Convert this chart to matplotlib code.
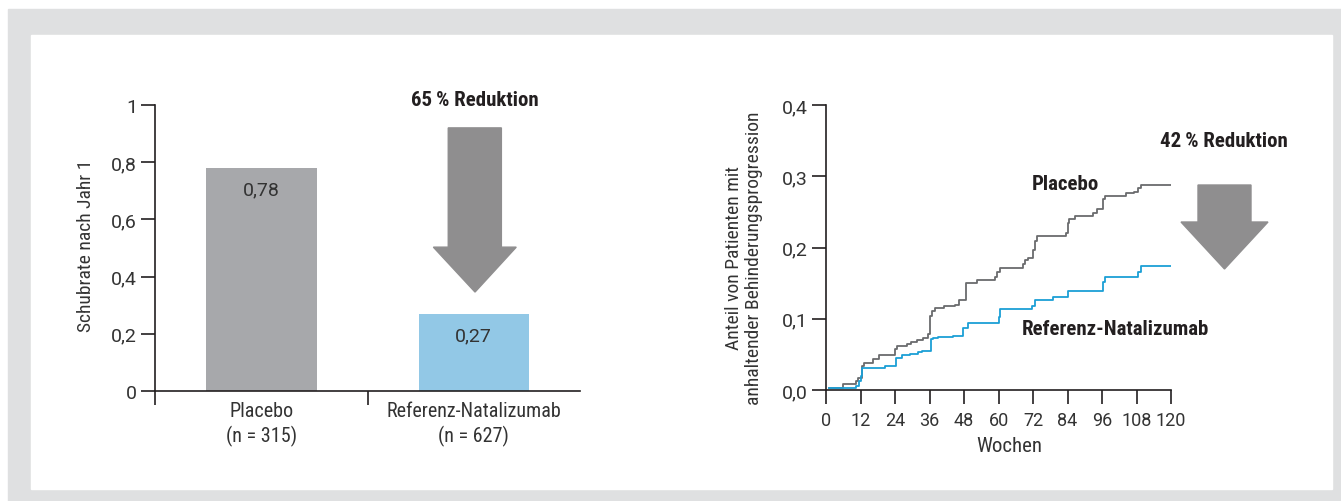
import matplotlib
matplotlib.use("Agg")
import matplotlib.pyplot as plt
from matplotlib.patches import Rectangle, Polygon

TEXT_FONT = ['Roboto Condensed', 'DejaVu Sans']
NUM_FONT = ['Roboto', 'DejaVu Sans']
plt.rcParams['font.family'] = TEXT_FONT

# data: left bar chart
groups = ['Placebo\n(n = 315)', 'Referenz-Natalizumab\n(n = 627)']
rates = [0.78, 0.27]
rate_labels = ['0,78', '0,27']
bar_colors = ['#a7a8ab', '#92c8e6']
left_yticks = [0, 0.2, 0.4, 0.6, 0.8, 1]
left_yticklabels = ['0', '0,2', '0,4', '0,6', '0,8', '1']

# data: right step curves (weeks, cumulative proportion)
plac_weeks = [1, 6, 10.4, 11.2, 12.4, 13.3, 16.5, 18.3, 24, 24.6, 28, 29.4, 31.5, 33.9,
              35.6, 36.2, 37, 38, 41, 44.9, 46.4, 48.6, 52.4, 58.8, 59.4, 60.5, 68.4,
              69.2, 70.4, 72.1, 72.6, 73.3, 83.5, 84, 84.6, 86.6, 93, 94.4, 96.5, 97,
              104.3, 107, 108.6, 109.4, 120]
plac_vals = [0.003, 0.008, 0.012, 0.017, 0.033, 0.038, 0.043, 0.049, 0.057, 0.062, 0.064,
             0.068, 0.070, 0.073, 0.078, 0.104, 0.111, 0.115, 0.118, 0.120, 0.126, 0.150,
             0.154, 0.158, 0.165, 0.171, 0.177, 0.182, 0.185, 0.197, 0.209, 0.216, 0.221,
             0.235, 0.240, 0.244, 0.248, 0.254, 0.268, 0.272, 0.276, 0.278, 0.284, 0.288,
             0.288]
nat_weeks = [1, 10.4, 11.6, 12, 12.5, 20.5, 24.3, 26.3, 29.2, 32.1, 33.3, 36.4, 37.3, 39,
             44, 47.8, 49.5, 60, 60.5, 71.8, 72.7, 79, 84.3, 96.2, 97, 108.6, 109.4, 120]
nat_vals = [0.003, 0.006, 0.013, 0.020, 0.031, 0.033, 0.045, 0.049, 0.051, 0.053, 0.055,
            0.071, 0.073, 0.075, 0.076, 0.087, 0.094, 0.102, 0.113, 0.118, 0.127, 0.131,
            0.139, 0.152, 0.158, 0.165, 0.174, 0.174]
week_ticks = list(range(0, 121, 12))
right_yticks = [0, 0.1, 0.2, 0.3, 0.4]
right_yticklabels = ['0,0', '0,1', '0,2', '0,3', '0,4']

W, H = 1341, 502
fig = plt.figure(figsize=(W / 100, H / 100), dpi=100)


def fx(px):
    return px / W


def fy(py):
    return 1 - py / H


def box(x0, y0, x1, y1):
    # pixel box (top-left origin) -> [left, bottom, width, height]
    return [fx(x0), fy(y1), (x1 - x0) / W, (y1 - y0) / H]


txt = '#231f20'
lbl = '#333333'


def num_labels(labels, size=14):
    for t in labels:
        t.set_fontfamily(NUM_FONT)
        t.set_fontsize(size)
        t.set_color(lbl)


# frame
fig.patches.append(Rectangle((fx(8), fy(502)), (1341 - 8) / W, (502 - 10) / H,
                             transform=fig.transFigure, color='#dfe0e1', zorder=-2))
fig.patches.append(Rectangle((fx(31), fy(490)), (1332 - 31) / W, (490 - 36) / H,
                             transform=fig.transFigure, color='white', zorder=-1))

tick_kw = dict(direction='out', length=10, width=1.2, colors=txt, pad=3)

# left chart
ax1 = fig.add_axes(box(155, 106, 580, 392))
ax1.patch.set_alpha(0)
ax1.bar([0.5, 1.5], rates, width=0.52, color=bar_colors)
for xx, v, lab in zip([0.5, 1.5], rates, rate_labels):
    ax1.text(xx, v - 0.075, lab, ha='center', va='center', fontsize=14, color=lbl,
             family=NUM_FONT)
ax1.set_xlim(0, 2)
ax1.set_ylim(0, 1)
ax1.set_yticks(left_yticks)
ax1.set_yticklabels(left_yticklabels)
ax1.set_xticks([0.5, 1.5])
ax1.set_xticklabels(groups, fontsize=14.5, color=lbl, linespacing=1.3)
ax1.set_xticks([0, 1], minor=True)
ax1.tick_params(axis='x', which='major', length=0, pad=7, labelcolor=lbl)
ax1.tick_params(axis='x', which='minor', direction='out', length=10, width=1.2, colors=txt)
ax1.tick_params(axis='y', **tick_kw)
num_labels(ax1.get_yticklabels())
for s in ['top', 'right']:
    ax1.spines[s].set_visible(False)
for s in ['left', 'bottom']:
    ax1.spines[s].set_linewidth(1.2)
    ax1.spines[s].set_color(txt)
fig.text(fx(86), fy(246), 'Schubrate nach Jahr 1', rotation=90, ha='center', va='center',
         fontsize=14, color=lbl)

# left arrow
ax1.add_patch(Polygon([[1.38, 0.92], [1.63, 0.92], [1.63, 0.503], [1.70, 0.503],
                       [1.506, 0.346], [1.31, 0.503], [1.38, 0.503]],
                      closed=True, color='#8f8e8f', clip_on=False))
fig.text(fx(475), fy(101), '65\u2009% Reduktion', ha='center', va='center', fontsize=15,
         fontweight='bold', color=txt)

# right chart
ax2 = fig.add_axes(box(826, 106, 1171, 391))
ax2.patch.set_alpha(0)
ax2.step(plac_weeks, plac_vals, where='post', color='#6a6b6d', lw=1.3)
ax2.step(nat_weeks, nat_vals, where='post', color='#1b9fd6', lw=1.3)
ax2.set_xlim(0, 120)
ax2.set_ylim(0, 0.4)
ax2.set_xticks(week_ticks)
ax2.set_yticks(right_yticks)
ax2.set_yticklabels(right_yticklabels)
ax2.tick_params(axis='both', **tick_kw)
ax2.tick_params(axis='x', pad=5)
num_labels(ax2.get_xticklabels(), 13)
num_labels(ax2.get_yticklabels())
for s in ['top', 'right']:
    ax2.spines[s].set_visible(False)
for s in ['left', 'bottom']:
    ax2.spines[s].set_linewidth(1.2)
    ax2.spines[s].set_color(txt)
fig.text(fx(1009), fy(447), 'Wochen', ha='center', va='center', fontsize=15, color=lbl)
fig.text(fx(744), fy(258), 'Anteil von Patienten mit\nanhaltender Behinderungsprogression',
         rotation=90, ha='center', va='center', multialignment='center', fontsize=14,
         color=lbl, linespacing=1.15)
fig.text(fx(1032), fy(185), 'Placebo', ha='left', va='center', fontsize=15,
         fontweight='bold', color=txt)
fig.text(fx(1022), fy(330), 'Referenz-Natalizumab', ha='left', va='center', fontsize=15,
         fontweight='bold', color=txt)

# right arrow
pts = [(1198, 186), (1251, 186), (1251, 223), (1268, 223), (1224.5, 270),
       (1181, 223), (1198, 223)]
fig.patches.append(Polygon([(fx(a), fy(b)) for a, b in pts], closed=True,
                           transform=fig.transFigure, color='#8f8e8f'))
fig.text(fx(1224), fy(142), '42\u2009% Reduktion', ha='center', va='center', fontsize=15,
         fontweight='bold', color=txt)

fig.savefig('out.png', dpi=100)
